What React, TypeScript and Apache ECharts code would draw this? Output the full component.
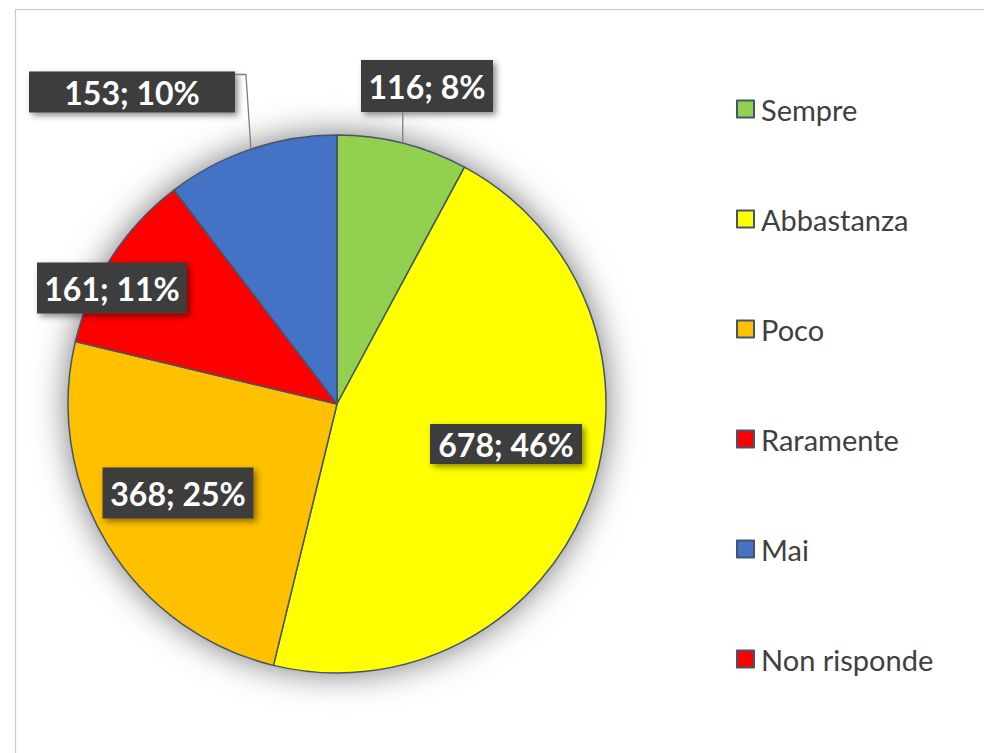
import React, { useEffect, useRef } from "react";
import * as echarts from "echarts";

const categories = ["Sempre", "Abbastanza", "Poco", "Raramente", "Mai", "Non risponde"];
const values = [116, 678, 368, 161, 153, 0];
const colors = ["#92D050", "#FFFF00", "#FFC000", "#FF0000", "#4472C4", "#FF0000"];

const CENTER: [number, number] = [337, 404];
const RADIUS = 269;
// label boxes: centre x, centre y, box width, box height
const labelBoxes: number[][] = [
  [427, 86, 132, 52],
  [506, 444, 152, 40],
  [178, 493, 151, 51],
  [112, 288, 150, 51],
  [132, 92, 206, 41],
];

function edgePoint(i: number): [number, number] {
  const total = values.reduce((a, b) => a + b, 0);
  let cum = 0;
  for (let k = 0; k < i; k++) cum += values[k];
  const mid = ((cum + values[i] / 2) / total) * Math.PI * 2;
  return [CENTER[0] + RADIUS * Math.sin(mid), CENTER[1] - RADIUS * Math.cos(mid)];
}

export default function App() {
  const ref = useRef<HTMLDivElement>(null);
  useEffect(() => {
    document.body.style.margin = "0";
    const chart = echarts.init(ref.current!, undefined, { renderer: "svg" });
    const padH = 4;
    const lh = 36;
    const data = categories.map((name, i) => {
      const b = labelBoxes[i];
      return {
        name,
        value: values[i],
        itemStyle: { color: colors[i] },
        label: b
          ? {
              show: true,
              width: b[2] - 2 * padH,
              padding: [(b[3] - lh) / 2, padH],
            }
          : { show: false },
      };
    });
    const e0 = edgePoint(0);
    const e4 = edgePoint(4);
    const b0 = labelBoxes[0];
    const b4 = labelBoxes[4];
    chart.setOption({
      animation: false,
      backgroundColor: "#ffffff",
      graphic: [
        {
          type: "rect",
          z: -10,
          shape: { x: 15.5, y: 9.5, width: 1000, height: 800 },
          style: { fill: "none", stroke: "#c9c9c9", lineWidth: 1.2 },
        },
        {
          type: "polyline",
          z: 100,
          shape: { points: [e0, [e0[0], b0[1] + b0[3] / 2]] },
          style: { fill: "none", stroke: "#7f7f7f", lineWidth: 1.3 },
        },
        {
          type: "polyline",
          z: 100,
          shape: {
            points: [e4, [e4[0] - 5, b4[1] - b4[3] / 2 + 3], [b4[0] + b4[2] / 2, b4[1] - b4[3] / 2 + 3]],
          },
          style: { fill: "none", stroke: "#7f7f7f", lineWidth: 1.3 },
        },
      ],
      legend: {
        data: categories,
        orient: "vertical",
        left: 731,
        top: 89,
        itemWidth: 17,
        itemHeight: 17,
        itemGap: 80,
        icon: "rect",
        selectedMode: false,
        textStyle: {
          fontFamily: "Lato",
          fontSize: 29,
          lineHeight: 30,
          color: "#404040",
          padding: [0, 0, 0, 2],
        },
      },
      series: [
        {
          type: "pie",
          silent: true,
          z: 1,
          center: CENTER,
          radius: RADIUS,
          label: { show: false },
          labelLine: { show: false },
          itemStyle: {
            color: "#ffffff",
            shadowBlur: 34,
            shadowColor: "rgba(0,0,0,0.55)",
          },
          data: [{ value: 1, name: "__shadow" }],
        },
        {
          type: "pie",
          z: 2,
          center: CENTER,
          radius: RADIUS,
          startAngle: 90,
          clockwise: true,
          avoidLabelOverlap: false,
          itemStyle: { borderColor: "#44546A", borderWidth: 1.5 },
          labelLine: { show: false },
          label: {
            show: true,
            position: "inside",
            color: "#ffffff",
            fontFamily: "Lato",
            fontWeight: "bold",
            fontSize: 32,
            lineHeight: lh,
            align: "center",
            overflow: "none",
            backgroundColor: "#3d3d3d",
            shadowColor: "rgba(0,0,0,0.45)",
            shadowBlur: 6,
            shadowOffsetX: 3,
            shadowOffsetY: 3,
            formatter: (p: any) => `${p.value}; ${Math.round(p.percent)}%`,
          },
          labelLayout: (p: any) => {
            const b = labelBoxes[p.dataIndex];
            if (!b) return {};
            return { x: b[0], y: b[1], align: "center", verticalAlign: "middle" };
          },
          data,
        },
      ],
    });
    return () => chart.dispose();
  }, []);
  return (
    <div
      ref={ref}
      style={{ position: "fixed", left: 0, top: 0, width: 984, height: 753, background: "#fff" }}
    />
  );
}
